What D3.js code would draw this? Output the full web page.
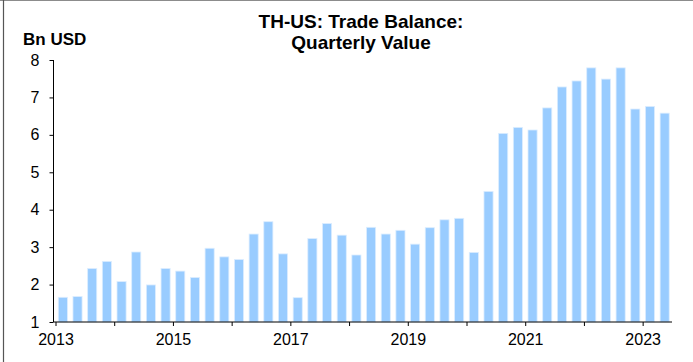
<!DOCTYPE html>
<html>
<head>
<meta charset="utf-8">
<script src="https://cdn.jsdelivr.net/npm/d3@7"></script>
<style>
  html, body { margin: 0; padding: 0; background: #fff; }
  svg { display: block; font-family: "Liberation Sans", Arial, sans-serif; }
</style>
</head>
<body>
<svg id="chart" width="693" height="362"></svg>
<script>
// Quarterly Thai trade balance with the US, billions of USD
const quarters = [
  "2013Q1","2013Q2","2013Q3","2013Q4",
  "2014Q1","2014Q2","2014Q3","2014Q4",
  "2015Q1","2015Q2","2015Q3","2015Q4",
  "2016Q1","2016Q2","2016Q3","2016Q4",
  "2017Q1","2017Q2","2017Q3","2017Q4",
  "2018Q1","2018Q2","2018Q3","2018Q4",
  "2019Q1","2019Q2","2019Q3","2019Q4",
  "2020Q1","2020Q2","2020Q3","2020Q4",
  "2021Q1","2021Q2","2021Q3","2021Q4",
  "2022Q1","2022Q2","2022Q3","2022Q4",
  "2023Q1","2023Q2"
];
const balance = [
  1.66, 1.68, 2.43, 2.62,
  2.08, 2.87, 1.99, 2.43,
  2.36, 2.19, 2.97, 2.74,
  2.67, 3.35, 3.68, 2.82,
  1.65, 3.23, 3.63, 3.32,
  2.79, 3.53, 3.35, 3.45,
  3.08, 3.52, 3.73, 3.77,
  2.86, 4.49, 6.04, 6.20,
  6.13, 6.72, 7.28, 7.44,
  7.79, 7.49, 7.79, 6.69,
  6.76, 6.58
];
const yTicks = [1, 2, 3, 4, 5, 6, 7, 8];
const yearTicks = [2013, 2014, 2015, 2016, 2017, 2018, 2019, 2020, 2021, 2022, 2023];
const labelledYears = [2013, 2015, 2017, 2019, 2021, 2023];

const svg = d3.select("#chart");

// outer frame edges
svg.append("line").attr("x1", 0).attr("x2", 693).attr("y1", 0.5).attr("y2", 0.5)
  .attr("stroke", "#8c8c8c").attr("stroke-width", 1);
svg.append("line").attr("x1", 3.5).attr("x2", 3.5).attr("y1", 0).attr("y2", 362)
  .attr("stroke", "#555").attr("stroke-width", 1.2);

const plotLeft = 53.5, plotRight = 672, plotTop = 60, plotBottom = 322;

const x = d3.scaleBand().domain(quarters).range([55.5, plotRight])
  .paddingInner(0.38).paddingOuter(0.19);
const xYear = d3.scaleLinear().domain([2013, 2023.5]).range([55.5, plotRight]);
const y = d3.scaleLinear().domain([1, 8]).range([plotBottom, plotTop]);

// bars
svg.append("g").selectAll("rect").data(quarters).join("rect")
  .attr("x", d => x(d))
  .attr("width", x.bandwidth())
  .attr("y", (d, i) => y(balance[i]))
  .attr("height", (d, i) => y(1) - y(balance[i]))
  .attr("fill", "#99ccff")
  .attr("stroke", "#dcedff")
  .attr("stroke-width", 0.8);

// y axis
const yAxis = svg.append("g").attr("transform", `translate(${plotLeft},0)`)
  .call(d3.axisLeft(y).tickValues(yTicks).tickSize(4).tickPadding(10).tickFormat(d3.format("d")));
yAxis.select(".domain").attr("d", `M0,${plotTop}V${plotBottom}`).attr("stroke", "#000");
yAxis.selectAll("text").attr("font-size", 16).attr("fill", "#000")
  .attr("font-family", "'Liberation Sans', Arial, sans-serif");

// x axis
const xAxis = svg.append("g").attr("transform", `translate(0,${plotBottom})`)
  .call(d3.axisBottom(xYear).tickValues(yearTicks).tickSize(4).tickPadding(8)
    .tickFormat(d => labelledYears.includes(d) ? String(d) : ""));
xAxis.select(".domain").attr("d", `M${plotLeft},0H${plotRight}`).attr("stroke", "#000");
xAxis.selectAll("text").attr("font-size", 16).attr("fill", "#000")
  .attr("font-family", "'Liberation Sans', Arial, sans-serif");

// unit label
svg.append("text").attr("x", 23).attr("y", 45)
  .attr("font-size", 17).attr("font-weight", "bold").text("Bn USD");

// title, two lines
svg.append("text").attr("text-anchor", "middle").attr("x", 361).attr("y", 28)
  .attr("font-size", 19).attr("font-weight", "bold").text("TH-US: Trade Balance:");
svg.append("text").attr("text-anchor", "middle").attr("x", 361).attr("y", 49)
  .attr("font-size", 19).attr("font-weight", "bold").text("Quarterly Value");
</script>
</body>
</html>
